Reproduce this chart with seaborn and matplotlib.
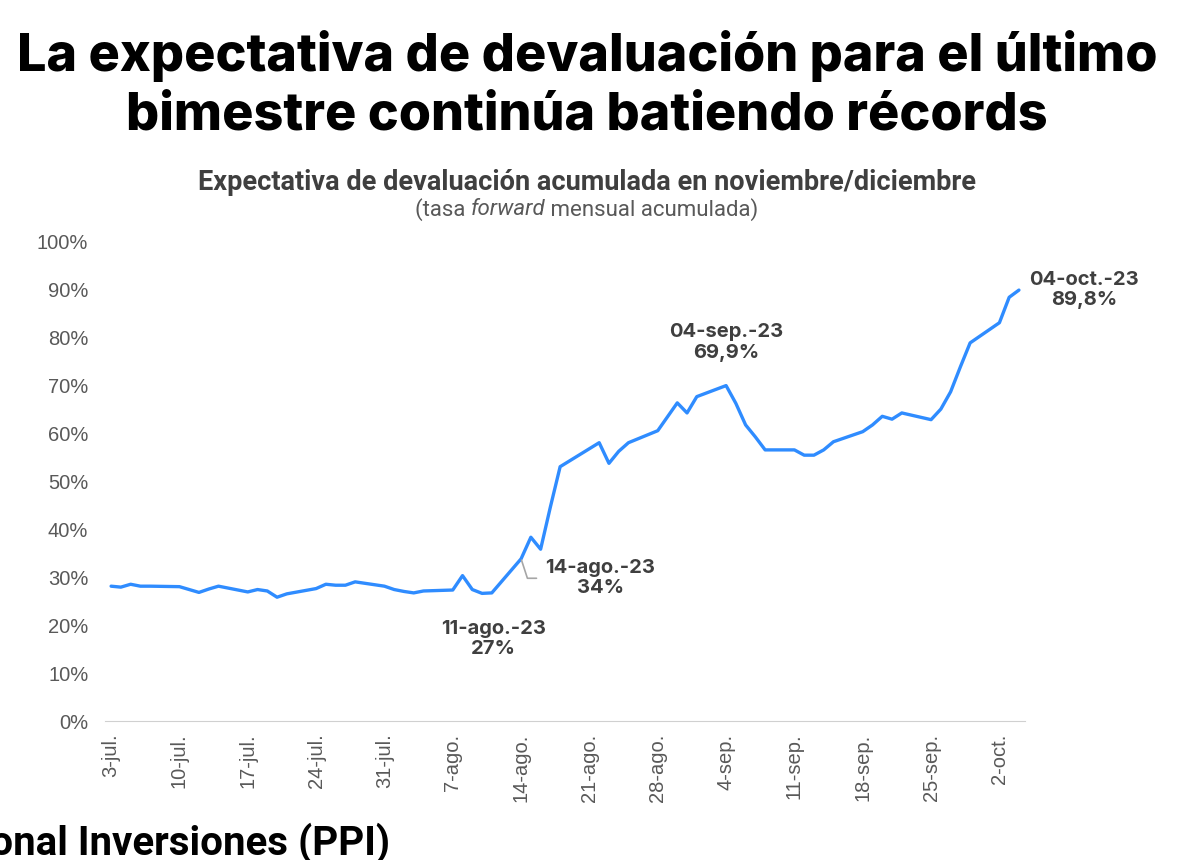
import matplotlib
matplotlib.use("Agg")
import matplotlib.pyplot as plt
import numpy as np
import pandas as pd
import seaborn as sns

# datos (días hábiles)
fechas = ["2023-07-03", "2023-07-04", "2023-07-05", "2023-07-06", "2023-07-07",
          "2023-07-10", "2023-07-11", "2023-07-12", "2023-07-13", "2023-07-14",
          "2023-07-17", "2023-07-18", "2023-07-19", "2023-07-20", "2023-07-21",
          "2023-07-24", "2023-07-25", "2023-07-26", "2023-07-27", "2023-07-28",
          "2023-07-31", "2023-08-01", "2023-08-02", "2023-08-03", "2023-08-04",
          "2023-08-07", "2023-08-08", "2023-08-09", "2023-08-10", "2023-08-11",
          "2023-08-14", "2023-08-15", "2023-08-16", "2023-08-17", "2023-08-18",
          "2023-08-22", "2023-08-23", "2023-08-24", "2023-08-25",
          "2023-08-28", "2023-08-29", "2023-08-30", "2023-08-31", "2023-09-01",
          "2023-09-04", "2023-09-05", "2023-09-06", "2023-09-07", "2023-09-08",
          "2023-09-11", "2023-09-12", "2023-09-13", "2023-09-14", "2023-09-15",
          "2023-09-18", "2023-09-19", "2023-09-20", "2023-09-21", "2023-09-22",
          "2023-09-25", "2023-09-26", "2023-09-27", "2023-09-28", "2023-09-29",
          "2023-10-02", "2023-10-03", "2023-10-04"]
devaluacion = [28.1, 27.9, 28.5, 28.1, 28.1,
               28.0, 27.4, 26.8, 27.5, 28.1,
               26.9, 27.4, 27.1, 25.8, 26.5,
               27.6, 28.5, 28.3, 28.3, 29.0,
               28.1, 27.4, 27.0, 26.7, 27.1,
               27.3, 30.3, 27.4, 26.6, 26.7,
               33.8, 38.3, 35.8, 44.6, 53.0,
               58.0, 53.7, 56.2, 58.0,
               60.5, 63.4, 66.3, 64.2, 67.6,
               69.9, 66.2, 61.7, 59.2, 56.5,
               56.5, 55.4, 55.4, 56.5, 58.2,
               60.3, 61.7, 63.5, 62.9, 64.2,
               62.8, 65.0, 68.6, 73.8, 78.8,
               83.0, 88.3, 89.8]

tick_fechas = ["2023-07-03", "2023-07-10", "2023-07-17", "2023-07-24", "2023-07-31",
               "2023-08-07", "2023-08-14", "2023-08-21", "2023-08-28", "2023-09-04",
               "2023-09-11", "2023-09-18", "2023-09-25", "2023-10-02"]
tick_labels = ["3-jul.", "10-jul.", "17-jul.", "24-jul.", "31-jul.", "7-ago.", "14-ago.",
               "21-ago.", "28-ago.", "4-sep.", "11-sep.", "18-sep.", "25-sep.", "2-oct."]

# anotaciones: fecha, texto
anot_fechas = ["2023-08-11", "2023-08-14", "2023-09-04", "2023-10-04"]
anot_textos = ["11-ago.-23\n27%", "14-ago.-23\n34%", "04-sep.-23\n69,9%", "04-oct.-23\n89,8%"]

df = pd.DataFrame({"fecha": pd.to_datetime(fechas), "valor": devaluacion})

sns.set_style("white")
plt.rcParams['font.family'] = ['Roboto', 'DejaVu Sans']

azul = "#2F8CFF"
gris_txt = "#595959"
gris_osc = "#3F3F3F"
fam_ejes = ['Liberation Sans', 'DejaVu Sans']

fig = plt.figure(figsize=(12, 8.6), dpi=100)
ax = fig.add_axes([0.0875, 0.1616, 0.7667, 0.558])

sns.lineplot(data=df, x="fecha", y="valor", ax=ax, color=azul, linewidth=2.4)

# ejes
x0 = pd.Timestamp("2023-07-03") - pd.Timedelta(hours=15)
x1 = pd.Timestamp("2023-10-04") + pd.Timedelta(hours=15)
ax.set_xlim(x0, x1)
ax.set_ylim(0, 100)
ax.set_yticks(np.arange(0, 101, 10))
ax.set_yticklabels([f"{v}%" for v in range(0, 101, 10)], color=gris_txt, fontsize=14.5,
                   family=fam_ejes)
ax.set_xticks(pd.to_datetime(tick_fechas))
ax.set_xticklabels(tick_labels, rotation=90, color=gris_txt, fontsize=14.5, family=fam_ejes)
ax.tick_params(axis='y', length=0, pad=12)
ax.tick_params(axis='x', length=5, color="#bfbfbf", width=1, pad=4)
ax.set_xlabel("")
ax.set_ylabel("")
sns.despine(ax=ax, left=True)
ax.spines['bottom'].set_color("#d0d0d0")
ax.grid(False)

# anotaciones
fechas_a = pd.to_datetime(anot_fechas)
vals_a = [df.loc[df.fecha == f, "valor"].iloc[0] for f in fechas_a]
kw = dict(fontsize=14.5, fontweight='bold', color=gris_osc, ha='center', va='center',
          linespacing=1.15, textcoords='offset points', family=['Inter', 'DejaVu Sans'])
ax.annotate(anot_textos[0], (fechas_a[0], vals_a[0]), xytext=(1, -33), **kw)
ax.annotate(anot_textos[1], (fechas_a[1], vals_a[1]), xytext=(57, -14), **kw,
            arrowprops=dict(arrowstyle='-', color="#a6a6a6", lw=1.2, relpos=(0, 0.5),
                            shrinkA=4, shrinkB=1,
                            connectionstyle="angle,angleA=0,angleB=-72,rad=0"))
ax.annotate(anot_textos[2], (fechas_a[2], vals_a[2]), xytext=(0, 31), **kw)
ax.annotate(anot_textos[3], (fechas_a[3], vals_a[3]), xytext=(47, 0), **kw)

# títulos
fam_tit = ['Inter', 'DejaVu Sans']
fig.text(0.489, 0.935, "La expectativa de devaluación para el último", ha='center', va='center',
         fontsize=37.5, fontweight='heavy', color='black', family=fam_tit)
fig.text(0.489, 0.865, "bimestre continúa batiendo récords", ha='center', va='center',
         fontsize=37.5, fontweight='heavy', color='black', family=fam_tit)
fig.text(0.489, 0.788, "Expectativa de devaluación acumulada en noviembre/diciembre",
         ha='center', va='center', fontsize=19.5, fontweight='bold', color=gris_osc)

# subtítulo con "forward" en cursiva
renderer = fig.canvas.get_renderer()
partes = [("(tasa ", 'normal'), ("forward", 'italic'), (" mensual acumulada)", 'normal')]
objs = []
ancho = 0
for txt, st in partes:
    t = fig.text(0, 0.756, txt, ha='left', va='center', fontsize=16, style=st, color=gris_txt)
    w = t.get_window_extent(renderer).width / fig.bbox.width
    objs.append((t, w))
    ancho += w
xpos = 0.489 - ancho / 2
for t, w in objs:
    t.set_x(xpos)
    xpos += w

# fuente (cortada en el borde, como en el original)
fig.text(390 / 1200, 0.006, "Fuente: Portfolio Personal Inversiones (PPI)", ha='right', va='baseline',
         fontsize=29, fontweight='bold', color='black')

fig.savefig("out.png", dpi=100)
